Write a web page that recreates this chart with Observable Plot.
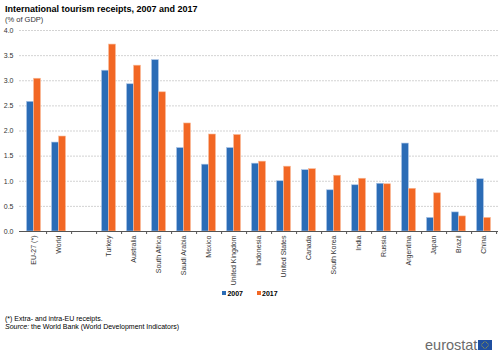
<!DOCTYPE html>
<html>
<head>
<meta charset="utf-8">
<script src="https://cdn.jsdelivr.net/npm/d3@7"></script>
<script src="https://cdn.jsdelivr.net/npm/@observablehq/plot@0.6"></script>
<style>
  body { margin: 0; background: #fff; font-family: "Liberation Sans", Arial, sans-serif; }
  #wrap { position: relative; width: 500px; height: 357px; overflow: hidden; }
  #title { position: absolute; left: 5px; top: 4px; font-size: 9px; font-weight: bold; color: #000; }
  #subtitle { position: absolute; left: 5px; top: 15px; font-size: 7.5px; color: #333; }
  #chart { position: absolute; left: 0; top: 0; }
  #legend { position: absolute; left: 0; width: 500px; top: 290px; text-align: center; font-size: 7px; font-weight: bold; color: #000; }
  #legend span.sw { display: inline-block; width: 4px; height: 4px; margin-right: 1px; vertical-align: 1px; }
  #legend span.item { margin: 0 7px; }
  #notes { position: absolute; left: 5px; top: 315px; font-size: 7px; color: #000; line-height: 8px; }
  #logo { position: absolute; left: 425px; top: 337px; font-size: 14.5px; color: #6b6b6b; letter-spacing: 0px; }
  #flag { position: absolute; left: 478px; top: 340px; }
</style>
</head>
<body>
<div id="wrap">
  <div id="chart"></div>
  <div id="title">International tourism receipts, 2007 and 2017</div>
  <div id="subtitle">(% of GDP)</div>
  <div id="legend"><span class="item"><span class="sw" style="background:#2b6cb6"></span>2007</span><span class="item"><span class="sw" style="background:#f26724"></span>2017</span></div>
  <div id="notes">(*) Extra- and intra-EU receipts.<br><i>Source:</i> the World Bank (World Development Indicators)</div>
  <div id="logo">eurostat</div>
  <svg id="flag" width="14" height="10" viewBox="0 0 14 10"></svg>
</div>
<script>
const categories = ["EU-27 (*)", "World", " ", "Turkey", "Australia", "South Africa", "Saudi Arabia", "Mexico", "United Kingdom", "Indonesia", "United States", "Canada", "South Korea", "India", "Russia", "Argentina", "Japan", "Brazil", "China"];
const values2007 = [2.58, 1.77, null, 3.20, 2.93, 3.41, 1.66, 1.33, 1.66, 1.35, 1.00, 1.22, 0.82, 0.92, 0.95, 1.75, 0.27, 0.38, 1.04];
const values2017 = [3.04, 1.89, null, 3.72, 3.30, 2.77, 2.15, 1.93, 1.92, 1.39, 1.29, 1.24, 1.11, 1.05, 0.94, 0.85, 0.76, 0.30, 0.27];
const yTicks = [0, 0.5, 1.0, 1.5, 2.0, 2.5, 3.0, 3.5, 4.0];

const d2007 = categories.map((c, i) => ({cat: c, v: values2007[i]})).filter(d => d.v != null);
const d2017 = categories.map((c, i) => ({cat: c, v: values2017[i]})).filter(d => d.v != null);

const W = 500, mL = 19, mR = 2;
const step = (W - mL - mR) / categories.length;
const gap = step * 0.22;
const half = step / 2;

const chart = Plot.plot({
  width: W,
  height: 290,
  marginTop: 30,
  marginBottom: 59,
  marginLeft: mL,
  marginRight: mR,
  style: { fontFamily: "Liberation Sans, Arial, sans-serif", fontSize: "7px", color: "#333", background: "transparent" },
  x: { domain: categories, padding: 0, label: null },
  y: { domain: [0, 4], ticks: yTicks, label: null },
  marks: [
    Plot.gridY(yTicks, { stroke: "#c8c8c8", strokeOpacity: 1, strokeDasharray: "2,1", strokeWidth: 0.8 }),
    Plot.axisY(yTicks, { tickSize: 0, tickPadding: 6, tickFormat: d3.format(".1f"), fill: "#333", fontSize: 7 }),
    Plot.barY(d2007, { x: "cat", y: "v", fill: "#2b6cb6", insetLeft: gap, insetRight: half, stroke: "#a9c3e6", strokeWidth: 0.6 }),
    Plot.barY(d2017, { x: "cat", y: "v", fill: "#f26724", insetLeft: half, insetRight: gap, stroke: "#f8b895", strokeWidth: 0.6 }),
    Plot.ruleY([0], { stroke: "#555", strokeWidth: 1 }),
    Plot.ruleX(categories, { x: d => d, dx: half, y1: 0, y2: 0, insetBottom: -3, stroke: "#555" }),
    Plot.axisX({ tickSize: 0, tickRotate: -90, tickPadding: 4, fill: "#333", fontSize: 7 })
  ]
});
document.getElementById("chart").appendChild(chart);

// EU flag
const flag = d3.select("#flag");
flag.append("rect").attr("width", 14).attr("height", 10).attr("fill", "#1f4fa0");
d3.range(12).forEach(i => {
  const a = i / 12 * 2 * Math.PI;
  flag.append("circle").attr("cx", 7 + 3.2 * Math.cos(a)).attr("cy", 5 + 3.2 * Math.sin(a)).attr("r", 0.45).attr("fill", "#f5d200");
});
</script>
</body>
</html>
